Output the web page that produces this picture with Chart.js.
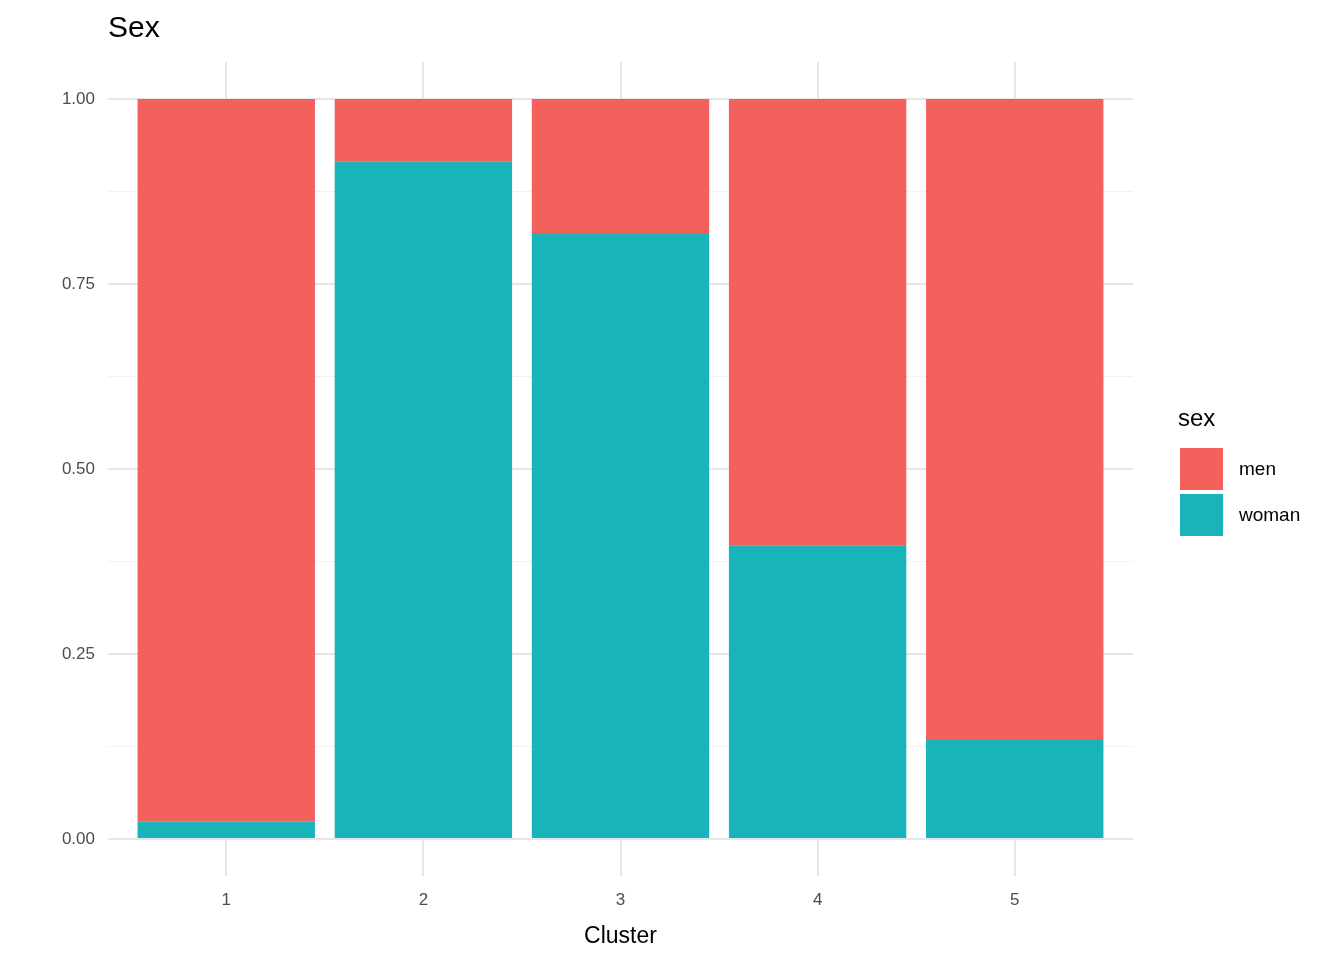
<!DOCTYPE html>
<html lang="en">
<head>
<meta charset="UTF-8">
<title>Sex</title>
<style>
  body { margin: 0; background: #fff; font-family: "Liberation Sans", Arial, sans-serif; }
  #wrap { position: relative; width: 1344px; height: 960px; }
  #title { position: absolute; left: 108px; top: 10px; font-size: 30px; color: #000; }
  #legend { position: absolute; left: 1178px; top: 404px; color: #000; }
  #legend .head { font-size: 24px; margin-bottom: 14px; }
  #legend .row { display: flex; align-items: center; height: 46px; font-size: 19px; }
  #legend .box { width: 43px; height: 42px; margin-left: 2px; margin-right: 16px; }
</style>
</head>
<body>
<div id="wrap">
  <canvas id="myChart" width="1344" height="960"></canvas>
  <div id="title">Sex</div>
  <div id="legend">
    <div class="head">sex</div>
    <div class="row"><div class="box" style="background:#F4605C"></div>men</div>
    <div class="row"><div class="box" style="background:#19B4B9"></div>woman</div>
  </div>
</div>

<script src="https://cdn.jsdelivr.net/npm/chart.js@4.4.1/dist/chart.umd.min.js"></script>
<script>
var clusters = [1, 2, 3, 4, 5];
var woman = [0.024, 0.916, 0.819, 0.397, 0.135];
var men = [0.976, 0.084, 0.181, 0.603, 0.865];
var yTicks = [0, 0.125, 0.25, 0.375, 0.5, 0.625, 0.75, 0.875, 1];

document.addEventListener("DOMContentLoaded", function () {
    function points(vals) {
        return clusters.map(function (c, i) { return { x: c, y: vals[i] }; });
    }

    var ctx = document.getElementById('myChart').getContext('2d');
    new Chart(ctx, {
        type: 'bar',
        data: {
            datasets: [
                { label: 'woman', data: points(woman), backgroundColor: '#19B4B9' },
                { label: 'men', data: points(men), backgroundColor: '#F4605C' }
            ]
        },
        options: {
            responsive: false,
            animation: false,
            categoryPercentage: 1,
            barPercentage: 0.9,
            layout: { padding: { top: 62, right: 211, left: 0, bottom: 0 } },
            plugins: { legend: { display: false }, tooltip: { enabled: false } },
            scales: {
                x: {
                    type: 'linear',
                    stacked: true,
                    offset: false,
                    min: 0.4,
                    max: 5.6,
                    afterBuildTicks: function (s) { s.ticks = clusters.map(function (v) { return { value: v }; }); },
                    afterFit: function (s) { s.height = 84; },
                    grid: { color: '#e6e6e6', lineWidth: 2, drawTicks: false, offset: false },
                    border: { display: false },
                    ticks: { padding: 14, color: '#4d4d4d', font: { size: 17, family: 'Liberation Sans' } },
                    title: { display: true, text: 'Cluster', color: '#000', padding: { top: 0, bottom: 10 },
                             font: { size: 23, family: 'Liberation Sans' } }
                },
                y: {
                    stacked: true,
                    min: -0.05,
                    max: 1.05,
                    afterBuildTicks: function (s) { s.ticks = yTicks.map(function (v) { return { value: v }; }); },
                    afterFit: function (s) { s.width = 108; },
                    grid: {
                        drawTicks: false,
                        color: function (c) { return (c.tick && c.tick.value * 4 % 1 === 0) ? '#e6e6e6' : '#f2f2f2'; },
                        lineWidth: function (c) { return (c.tick && c.tick.value * 4 % 1 === 0) ? 2 : 1; }
                    },
                    border: { display: false },
                    ticks: {
                        padding: 13,
                        color: '#4d4d4d',
                        font: { size: 17, family: 'Liberation Sans' },
                        callback: function (v) { return (v * 4 % 1 === 0) ? v.toFixed(2) : ''; }
                    }
                }
            }
        }
    });
});
</script>
</body>
</html>
